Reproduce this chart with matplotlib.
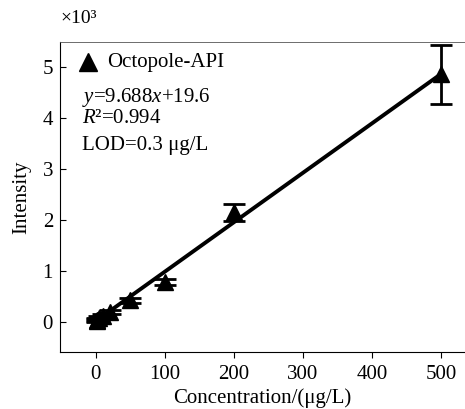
import matplotlib
matplotlib.use("Agg")
import matplotlib.pyplot as plt
import numpy as np

plt.rcParams['font.family'] = ['Liberation Serif', 'DejaVu Serif']
plt.rcParams['mathtext.fontset'] = 'custom'
plt.rcParams['mathtext.rm'] = 'Liberation Serif'
plt.rcParams['mathtext.it'] = 'Liberation Serif:italic'

conc = [1, 2, 5, 10, 20, 50, 100, 200, 500]
intensity = [0.03, 0.05, 0.08, 0.12, 0.19, 0.43, 0.78, 2.15, 4.86]
err = [0.03, 0.03, 0.03, 0.04, 0.04, 0.05, 0.06, 0.17, 0.58]
slope = 9.688
intercept = 19.6
xticks = [0, 100, 200, 300, 400, 500]
yticks = [0, 1, 2, 3, 4, 5]

fs = 15
fig = plt.figure(figsize=(4.65, 4.09), dpi=100)
ax = fig.add_axes([0.129, 0.139, 0.871, 0.758])

xf = np.array([0, 500])
ax.plot(xf, (slope * xf + intercept) / 1000, color='black', lw=2.8, zorder=2)
ax.errorbar(conc, intensity, yerr=err, fmt='^', color='black', ms=11,
            capsize=8, elinewidth=2, capthick=2, zorder=3)

ax.set_xlim(-52, 535)
ax.set_ylim(-0.59, 5.49)
ax.set_xticks(xticks)
ax.set_yticks(yticks)
ax.tick_params(axis='x', direction='out', length=4, labelsize=fs, pad=5)
ax.tick_params(axis='y', direction='in', length=4, labelsize=fs, pad=5)
ax.spines['right'].set_visible(False)
ax.spines['top'].set_linewidth(0.6)
ax.spines['top'].set_color('#555555')
ax.set_xlabel('Concentration/(μg/L)', fontsize=fs, labelpad=3)
ax.set_ylabel('Intensity', fontsize=fs, labelpad=8)

ax.plot([0.069], [0.935], marker='^', color='black', ms=13, transform=ax.transAxes, clip_on=False)
ax.text(0.116, 0.935, 'Octopole-API', transform=ax.transAxes, fontsize=fs, va='center')
ax.text(0.054, 0.823, r'$\it{y}$=9.688$\it{x}$+19.6', transform=ax.transAxes, fontsize=fs, va='center')
ax.text(0.054, 0.755, r'$\it{R}$²=0.994', transform=ax.transAxes, fontsize=fs, va='center')
ax.text(0.054, 0.665, 'LOD=0.3 μg/L', transform=ax.transAxes, fontsize=fs, va='center')
fig.text(0.129, 0.955, '×10³', fontsize=14, va='center')

fig.savefig('out.png', dpi=100)
